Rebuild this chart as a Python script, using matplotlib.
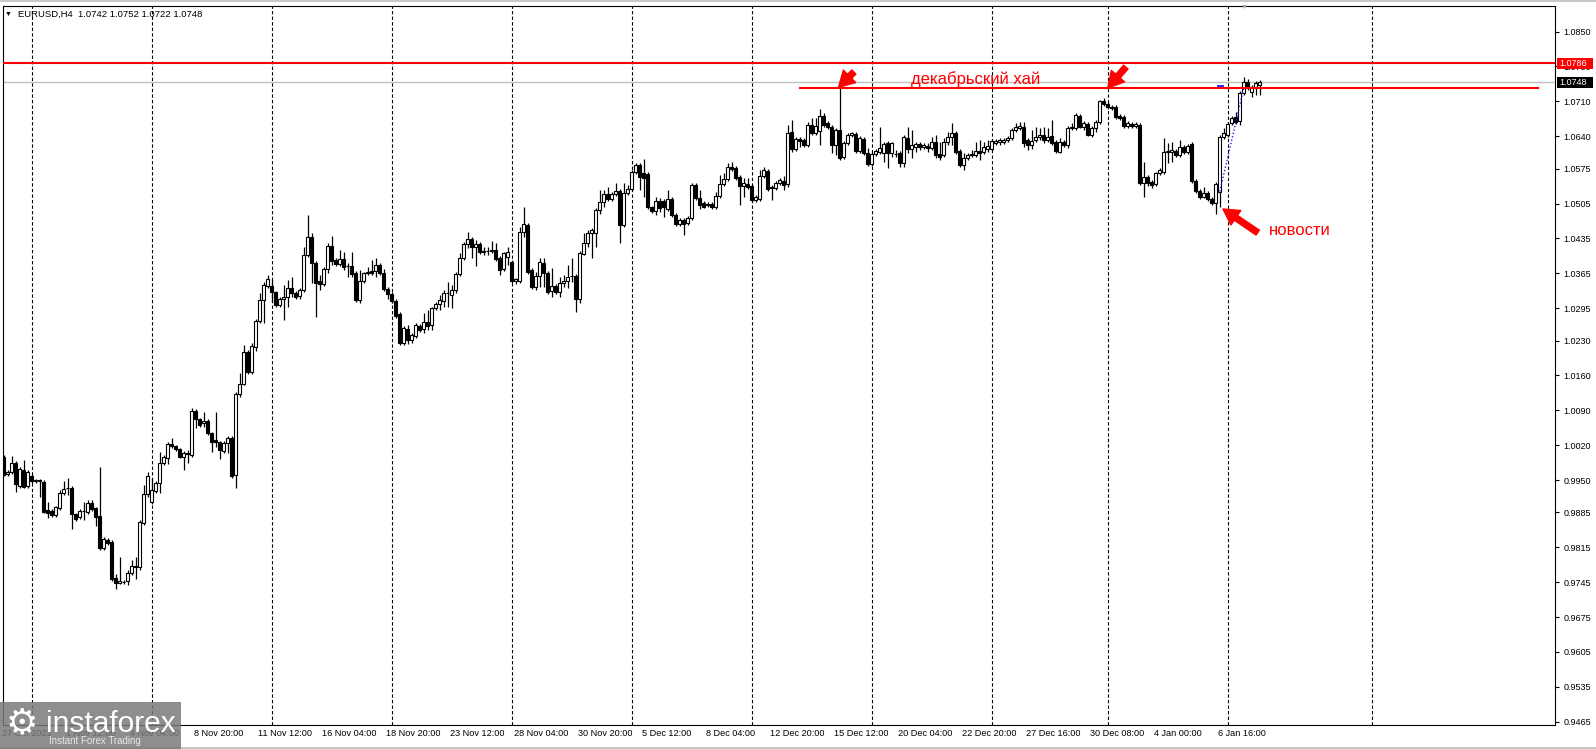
import numpy as np
import matplotlib.pyplot as plt
import matplotlib.transforms as mtransforms
from matplotlib.patches import Rectangle

plt.rcParams['font.family'] = ['Liberation Sans', 'DejaVu Sans']

# EURUSD H4 candles, prices in pips (x 0.0001)
opens = [
    9997, 9962, 9967, 9985, 9939, 9971, 9939, 9959, 9949, 9950,
    9947, 9890, 9888, 9880, 9894, 9925, 9934, 9935, 9882, 9876,
    9888, 9886, 9904, 9894, 9878, 9814, 9830, 9826, 9754, 9744,
    9746, 9748, 9764, 9778, 9776, 9864, 9923, 9905, 9929, 9945,
    9985, 9995, 10023, 10019, 10013, 9997, 10004, 10000, 10089, 10073,
    10065, 10069, 10045, 10031, 10027, 10009, 10025, 10035, 9961, 10123,
    10143, 10207, 10167, 10218, 10270, 10312, 10340, 10340, 10328, 10302,
    10314, 10318, 10336, 10326, 10320, 10332, 10402, 10438, 10386, 10350,
    10344, 10374, 10420, 10392, 10384, 10394, 10380, 10380, 10366, 10312,
    10350, 10366, 10370, 10370, 10382, 10366, 10334, 10324, 10310, 10284,
    10226, 10254, 10232, 10240, 10260, 10254, 10268, 10262, 10296, 10304,
    10310, 10326, 10322, 10332, 10364, 10396, 10424, 10434, 10418, 10424,
    10408, 10410, 10410, 10412, 10396, 10374, 10398, 10388, 10350, 10350,
    10448, 10462, 10372, 10338, 10360, 10386, 10366, 10330, 10340, 10328,
    10346, 10350, 10360, 10360, 10314, 10404, 10426, 10446, 10446, 10491,
    10509, 10525, 10515, 10525, 10531, 10462, 10527, 10535, 10569, 10583,
    10567, 10565, 10497, 10489, 10511, 10511, 10493, 10515, 10481, 10464,
    10472, 10466, 10476, 10543, 10517, 10507, 10503, 10505, 10497, 10521,
    10545, 10555, 10579, 10577, 10559, 10541, 10545, 10541, 10513, 10515,
    10561, 10571, 10539, 10537, 10547, 10551, 10545, 10649, 10615, 10635,
    10633, 10623, 10663, 10647, 10651, 10681, 10667, 10659, 10623, 10653,
    10599, 10627, 10643, 10645, 10611, 10635, 10607, 10585, 10605, 10609,
    10607, 10627, 10607, 10605, 10607, 10587, 10637, 10615, 10619, 10625,
    10619, 10621, 10617, 10629, 10605, 10603, 10629, 10639, 10647, 10611,
    10583, 10597, 10605, 10603, 10611, 10609, 10615, 10615, 10627, 10629,
    10629, 10633, 10637, 10653, 10657, 10659, 10633, 10623, 10633, 10639,
    10643, 10633, 10641, 10629, 10609, 10629, 10623, 10657, 10657, 10681,
    10659, 10665, 10643, 10657, 10669, 10711, 10705, 10699, 10699, 10681,
    10679, 10661, 10665, 10661, 10663, 10547, 10559, 10549, 10545, 10567,
    10569, 10611, 10609, 10611, 10603, 10619, 10609, 10625, 10551, 10531,
    10519, 10527, 10515, 10507, 10529, 10639, 10643, 10667, 10679, 10671,
    10727, 10749, 10729, 10737, 10742,
]
highs = [
    10000, 9970, 9999, 9988, 9977, 9991, 9971, 9963, 9953, 9953,
    9950, 9906, 9892, 9898, 9931, 9949, 9955, 9939, 9884, 9892,
    9906, 9910, 9910, 9896, 9977, 9836, 9834, 9830, 9762, 9796,
    9750, 9770, 9790, 9796, 9870, 9941, 9967, 9955, 9949, 10007,
    10001, 10027, 10035, 10021, 10015, 10009, 10011, 10095, 10093, 10075,
    10087, 10073, 10047, 10087, 10029, 10029, 10039, 10039, 10127, 10165,
    10221, 10211, 10225, 10274, 10326, 10348, 10362, 10352, 10330, 10318,
    10342, 10352, 10358, 10330, 10336, 10418, 10482, 10446, 10390, 10362,
    10378, 10426, 10440, 10396, 10412, 10408, 10386, 10408, 10370, 10372,
    10368, 10378, 10392, 10396, 10386, 10374, 10338, 10328, 10314, 10288,
    10260, 10262, 10246, 10266, 10264, 10286, 10292, 10298, 10308, 10322,
    10332, 10348, 10342, 10368, 10406, 10428, 10448, 10438, 10432, 10428,
    10418, 10418, 10430, 10426, 10400, 10408, 10418, 10392, 10356, 10458,
    10498, 10466, 10376, 10368, 10396, 10396, 10370, 10376, 10344, 10358,
    10362, 10382, 10396, 10364, 10410, 10446, 10452, 10456, 10496, 10533,
    10533, 10539, 10529, 10547, 10535, 10547, 10543, 10573, 10587, 10587,
    10595, 10569, 10501, 10519, 10517, 10515, 10533, 10519, 10485, 10476,
    10476, 10480, 10547, 10547, 10533, 10511, 10509, 10509, 10529, 10563,
    10567, 10587, 10589, 10581, 10563, 10557, 10557, 10545, 10523, 10573,
    10579, 10575, 10543, 10551, 10557, 10561, 10663, 10673, 10639, 10639,
    10637, 10669, 10677, 10677, 10695, 10687, 10671, 10663, 10657, 10737,
    10631, 10647, 10649, 10649, 10641, 10639, 10617, 10609, 10615, 10659,
    10629, 10631, 10629, 10613, 10611, 10643, 10659, 10653, 10629, 10629,
    10627, 10627, 10639, 10643, 10629, 10637, 10649, 10667, 10651, 10615,
    10607, 10607, 10613, 10629, 10633, 10629, 10633, 10635, 10635, 10637,
    10637, 10641, 10657, 10667, 10669, 10669, 10637, 10653, 10659, 10657,
    10659, 10657, 10673, 10633, 10637, 10633, 10661, 10667, 10687, 10685,
    10671, 10669, 10661, 10673, 10713, 10717, 10709, 10703, 10703, 10685,
    10683, 10671, 10669, 10669, 10667, 10589, 10563, 10553, 10569, 10577,
    10637, 10627, 10629, 10615, 10633, 10623, 10625, 10629, 10555, 10535,
    10539, 10531, 10519, 10549, 10643, 10657, 10669, 10681, 10689, 10731,
    10759, 10755, 10743, 10751, 10752,
]
lows = [
    9958, 9958, 9963, 9927, 9935, 9935, 9935, 9945, 9945, 9915,
    9884, 9874, 9876, 9876, 9890, 9921, 9921, 9852, 9868, 9872,
    9870, 9882, 9888, 9858, 9810, 9810, 9820, 9748, 9732, 9742,
    9742, 9740, 9760, 9752, 9770, 9860, 9915, 9901, 9925, 9925,
    9981, 9983, 10015, 10009, 9995, 9971, 9985, 9996, 10055, 10057,
    10057, 10041, 10007, 10017, 9993, 10005, 10005, 9955, 9935, 10117,
    10141, 10163, 10163, 10208, 10266, 10266, 10336, 10308, 10298, 10298,
    10272, 10298, 10318, 10314, 10314, 10328, 10398, 10346, 10278, 10332,
    10340, 10366, 10382, 10380, 10380, 10372, 10358, 10358, 10308, 10306,
    10346, 10362, 10362, 10358, 10362, 10330, 10314, 10306, 10276, 10222,
    10222, 10224, 10226, 10236, 10248, 10246, 10252, 10252, 10292, 10292,
    10298, 10298, 10296, 10326, 10360, 10392, 10416, 10396, 10380, 10404,
    10402, 10402, 10406, 10390, 10362, 10370, 10382, 10346, 10344, 10346,
    10438, 10364, 10334, 10332, 10338, 10338, 10324, 10318, 10324, 10318,
    10338, 10336, 10348, 10288, 10306, 10402, 10418, 10396, 10418, 10483,
    10497, 10511, 10511, 10521, 10426, 10458, 10523, 10531, 10565, 10533,
    10519, 10493, 10485, 10481, 10487, 10477, 10489, 10477, 10460, 10460,
    10442, 10462, 10472, 10513, 10493, 10495, 10497, 10493, 10493, 10517,
    10541, 10551, 10571, 10553, 10503, 10519, 10535, 10509, 10509, 10511,
    10557, 10531, 10513, 10533, 10543, 10533, 10539, 10609, 10611, 10619,
    10619, 10619, 10643, 10643, 10623, 10659, 10655, 10607, 10603, 10593,
    10595, 10623, 10639, 10607, 10607, 10603, 10581, 10581, 10601, 10605,
    10589, 10577, 10599, 10599, 10579, 10579, 10607, 10597, 10609, 10613,
    10615, 10609, 10613, 10597, 10593, 10599, 10623, 10623, 10605, 10579,
    10573, 10593, 10599, 10599, 10593, 10605, 10609, 10611, 10623, 10623,
    10625, 10629, 10633, 10649, 10653, 10619, 10613, 10615, 10629, 10633,
    10627, 10629, 10623, 10607, 10607, 10619, 10617, 10653, 10653, 10657,
    10653, 10641, 10639, 10649, 10665, 10701, 10695, 10693, 10675, 10673,
    10657, 10657, 10657, 10657, 10543, 10519, 10541, 10537, 10541, 10563,
    10565, 10587, 10589, 10599, 10599, 10605, 10605, 10547, 10527, 10515,
    10517, 10511, 10503, 10484, 10499, 10635, 10639, 10663, 10665, 10663,
    10723, 10733, 10719, 10723, 10722,
]
closes = [
    9961, 9967, 9985, 9943, 9973, 9937, 9967, 9949, 9950, 9949,
    9886, 9884, 9880, 9896, 9925, 9933, 9935, 9882, 9872, 9888,
    9888, 9904, 9892, 9876, 9814, 9832, 9824, 9752, 9744, 9748,
    9746, 9764, 9778, 9776, 9866, 9923, 9959, 9931, 9945, 9985,
    9997, 10023, 10019, 10013, 9997, 10005, 10002, 10089, 10073, 10061,
    10069, 10045, 10027, 10027, 10011, 10025, 10035, 9959, 10123, 10143,
    10207, 10167, 10220, 10270, 10312, 10342, 10354, 10328, 10302, 10314,
    10318, 10336, 10326, 10318, 10332, 10402, 10438, 10386, 10346, 10344,
    10374, 10420, 10390, 10384, 10394, 10378, 10380, 10364, 10312, 10350,
    10366, 10368, 10366, 10382, 10366, 10334, 10324, 10310, 10280, 10226,
    10256, 10232, 10242, 10262, 10252, 10268, 10260, 10296, 10304, 10312,
    10326, 10326, 10332, 10364, 10396, 10424, 10434, 10418, 10424, 10408,
    10410, 10410, 10412, 10394, 10372, 10406, 10408, 10350, 10354, 10448,
    10464, 10368, 10338, 10360, 10388, 10366, 10328, 10340, 10328, 10346,
    10350, 10358, 10360, 10314, 10406, 10426, 10446, 10452, 10491, 10509,
    10525, 10515, 10525, 10531, 10462, 10527, 10535, 10569, 10583, 10559,
    10557, 10497, 10489, 10511, 10495, 10497, 10515, 10481, 10464, 10472,
    10464, 10476, 10543, 10517, 10503, 10499, 10503, 10497, 10521, 10545,
    10555, 10579, 10575, 10557, 10541, 10547, 10539, 10513, 10519, 10561,
    10573, 10535, 10537, 10547, 10553, 10543, 10647, 10615, 10635, 10631,
    10623, 10663, 10647, 10661, 10681, 10663, 10659, 10623, 10653, 10597,
    10627, 10643, 10647, 10611, 10637, 10607, 10585, 10605, 10611, 10617,
    10625, 10607, 10627, 10605, 10587, 10639, 10615, 10623, 10625, 10619,
    10623, 10617, 10629, 10603, 10599, 10629, 10639, 10647, 10609, 10583,
    10597, 10603, 10603, 10611, 10607, 10619, 10621, 10631, 10631, 10633,
    10633, 10637, 10653, 10659, 10661, 10627, 10623, 10631, 10639, 10643,
    10633, 10639, 10627, 10611, 10629, 10623, 10657, 10659, 10683, 10659,
    10667, 10643, 10657, 10669, 10711, 10705, 10699, 10697, 10679, 10677,
    10661, 10667, 10661, 10665, 10547, 10559, 10547, 10543, 10567, 10573,
    10609, 10609, 10613, 10603, 10619, 10609, 10621, 10551, 10531, 10519,
    10527, 10515, 10507, 10545, 10639, 10647, 10665, 10677, 10669, 10727,
    10749, 10737, 10739, 10747, 10748,
]

date_labels = ["27 Oct 2022", "1 Nov 12:00", "4 Nov 04:00", "8 Nov 20:00",
               "11 Nov 12:00", "16 Nov 04:00", "18 Nov 20:00", "23 Nov 12:00",
               "28 Nov 04:00", "30 Nov 20:00", "5 Dec 12:00", "8 Dec 04:00",
               "12 Dec 20:00", "15 Dec 12:00", "20 Dec 04:00", "22 Dec 20:00",
               "27 Dec 16:00", "30 Dec 08:00", "4 Jan 00:00", "6 Jan 16:00"]
label_step = 16
price_ticks = [1.0850, 1.0780, 1.0710, 1.0640, 1.0575, 1.0505, 1.0435, 1.0365,
               1.0295, 1.0230, 1.0160, 1.0090, 1.0020, 0.9950, 0.9885, 0.9815,
               0.9745, 0.9675, 0.9605, 0.9535, 0.9465]
grid_bars = [7, 37, 67, 97, 127, 157, 187, 217, 247, 276, 306, 342]

red_level = 1.0786
bid = 1.0748
dec_high = 1.0737
title = "EURUSD,H4  1.0742 1.0752 1.0722 1.0748"

W, H = 1596, 749
fig = plt.figure(figsize=(W / 100, H / 100), dpi=100)
fig.patch.set_facecolor('white')
ax = fig.add_axes([2.7 / W, (H - 725) / H, (1555 - 2.7) / W, (725 - 5.7) / H])
ax.set_xlim(-0.25, 387.8)
ax.set_ylim(0.94584, 1.0902)

o = np.array(opens) / 1e4
h = np.array(highs) / 1e4
l = np.array(lows) / 1e4
c = np.array(closes) / 1e4
idx = np.arange(len(c))
up = c >= o
body = np.maximum(np.abs(c - o), 0.00003)

# grid
for g in grid_bars:
    ax.axvline(g, color='black', lw=0.8, ls=(0, (3, 2)), zorder=1)

# candles
ax.vlines(idx, l, h, color='black', lw=0.9, zorder=2)
ax.bar(idx[up], body[up], bottom=o[up], width=0.7, color='white',
       edgecolor='black', lw=0.8, zorder=3)
ax.bar(idx[~up], body[~up], bottom=c[~up], width=0.7, color='black',
       edgecolor='black', lw=0.8, zorder=3)

# levels
ax.axhline(bid, color='#c0c0c0', lw=1, zorder=1.5)
ax.axhline(red_level, color='red', lw=1.5, zorder=4)
ax.hlines(dec_high, 198.8, 383.8, color='red', lw=1.5, zorder=4)
ax.hlines(dec_high + 0.0003, 303.4, 305, color='#2020ff', lw=1.3, zorder=4)
ax.plot([304, 310], [o[304], dec_high], color='#2020ff', lw=1, ls=(0, (1, 1.5)), zorder=4)

# annotations
arrow = dict(arrowstyle='simple,head_length=0.8,head_width=0.9,tail_width=0.3',
             color='red', mutation_scale=14, shrinkA=0, shrinkB=0)
ax.annotate('', xy=(208.7, h[209] + 0.00012), xytext=(11, 11),
            textcoords='offset points', arrowprops=arrow, zorder=6)
ax.annotate('', xy=(276, dec_high), xytext=(13, 15),
            textcoords='offset points', arrowprops=arrow, zorder=6)
ax.annotate('', xy=(304.8, 1.0494), xytext=(25, -17),
            textcoords='offset points', arrowprops=arrow, zorder=6)
ax.text(243, dec_high + 0.00074, 'декабрьский хай', color='red', fontsize=12,
        ha='center', va='baseline', zorder=6)
ax.text(316.3, 1.0450, 'новости', color='red', fontsize=12,
        ha='left', va='center', zorder=6)

# axes styling
for s in ax.spines.values():
    s.set_linewidth(0.8)
    s.set_color('black')
ax.set_xticks([])
ax.yaxis.tick_right()
ax.set_yticks(price_ticks)
ax.set_yticklabels([f'{v:.4f}' for v in price_ticks])
ax.tick_params(axis='y', direction='out', length=3, width=0.8, pad=3,
               labelsize=6.5, colors='black')

xt = ax.get_xaxis_transform()
for k, lab in enumerate(date_labels):
    ax.text(k * label_step - 0.4, -0.0125, lab, transform=xt, fontsize=6.6,
            ha='left', va='center', clip_on=False)

# price tags on the right axis
yt = mtransforms.blended_transform_factory(ax.transAxes, ax.transData)
for val, fc in [(red_level, 'red'), (bid, 'black')]:
    ax.add_patch(Rectangle((1.0011, val - 0.00117), 0.0235, 0.00234, transform=yt,
                           fc=fc, ec='none', clip_on=False, zorder=10))
    ax.text(1.0028, val, f'{val:.4f}', transform=yt, color='white', fontsize=6.5,
            ha='left', va='center', clip_on=False, zorder=11)

# title and chart marks
fig.text(5 / W, 1 - 14 / H, '▼', fontsize=5, ha='left', va='center')
fig.text(18 / W, 1 - 14 / H, title, fontsize=6.8, ha='left', va='center')
fig.text(1244 / W, 1 - 7 / H, '▼', fontsize=5, color='#b0b0b0', ha='center', va='center')
fig.add_artist(Rectangle((0, 1 - 2 / H), 1, 2 / H, transform=fig.transFigure,
                         fc='#c8c8c8', ec='none'))
fig.add_artist(Rectangle((0, 0), 1, 2 / H, transform=fig.transFigure,
                         fc='#c8c8c8', ec='none'))

# watermark
fig.add_artist(Rectangle((0, 0), 181 / W, 47 / H, transform=fig.transFigure,
                         fc='#7a7a7a', alpha=0.85, ec='none', zorder=20))
fig.text(22 / W, 1 - 723 / H, '⚙', fontsize=26, color='white', family='DejaVu Sans',
         ha='center', va='center', zorder=21)
fig.text(46 / W, 1 - 724 / H, 'instaforex', fontsize=21.5, color='white',
         ha='left', va='center', zorder=21)
fig.text(49 / W, 1 - 741 / H, 'Instant Forex Trading', fontsize=7, color='#e8e8e8',
         ha='left', va='center', zorder=21)

fig.savefig('out.png', dpi=100)
